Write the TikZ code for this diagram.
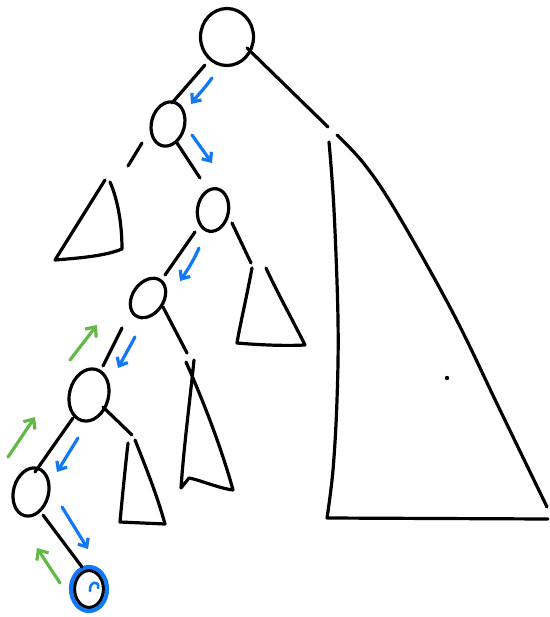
\documentclass[tikz,border=0pt]{standalone}
\usetikzlibrary{shapes.geometric,arrows.meta,calc}
\definecolor{pathblue}{RGB}{18,120,245}
\definecolor{upgreen}{RGB}{98,185,72}
\begin{document}
\begin{tikzpicture}[x=1pt,y=-1pt,
  pen/.style={draw=black,line width=3.2pt,line cap=round,line join=round},
  treenode/.style={pen,ellipse,inner sep=0pt},
  downarrow/.style={draw=pathblue,line width=3.2pt,line cap=round,line join=round,-{Straight Barb[length=7pt,width=12pt]}},
  uparrow/.style={draw=upgreen,line width=3.2pt,line cap=round,line join=round,-{Straight Barb[length=8pt,width=14pt]}},
]
\useasboundingbox (0,0) rectangle (549,617);

% nodes
\node[treenode,minimum width=53pt,minimum height=57pt] (root) at (227,37) {};
\node[treenode,minimum width=33pt,minimum height=45pt,rotate=-15] (n1) at (168,124) {};
\node[treenode,minimum width=31pt,minimum height=43pt,rotate=-10] (n2) at (213,210) {};
\node[treenode,minimum width=31pt,minimum height=43pt,rotate=-35] (n3) at (148,298) {};
\node[treenode,minimum width=39pt,minimum height=53pt,rotate=-15] (n4) at (89,395) {};
\node[treenode,minimum width=35pt,minimum height=49pt,rotate=-15] (n5) at (31,492) {};
\node[treenode,minimum width=29pt,minimum height=37pt] (n6) at (89,589) {};
\draw[pathblue,line width=4.2pt] (n6.center) ellipse [x radius=18, y radius=22];
\draw[pathblue,line width=2.6pt,line cap=round] ($(n6)+(1,2)$) .. controls ($(n6)+(0,-8)$) and ($(n6)+(11,-9)$) .. ($(n6)+(9,-1)$);

% subtree tops
\coordinate (rt) at (328,127);
\coordinate (lt) at (128,166);
\coordinate (t2) at (251,263);
\coordinate (t3) at (187,353);
\coordinate (t4) at (132,435);

% edges
\draw[pen] ($(root)+(-22,28)$) -- ($(n1)+(4,-21)$);
\draw[pen] ($(root)+(20,11)$) -- (rt);
\draw[pen] ($(n1)+(-26,19)$) -- (lt);
\draw[pen] ($(n1)+(9,19)$) -- ($(n2)+(-13,-32)$);
\draw[pen] ($(n2)+(-18,22)$) -- ($(n3)+(17,-23)$);
\draw[pen] ($(n2)+(19,13)$) -- (t2);
\draw[pen] ($(n3)+(-26,30)$) -- ($(n4)+(14,-29)$);
\draw[pen] ($(n3)+(15,9)$) -- (t3);
\draw[pen] ($(n4)+(-16,23)$) -- ($(n5)+(4,-20)$);
\draw[pen] ($(n4)+(14,12)$) -- (t4);
\draw[pen] ($(n5)+(12,23)$) -- ($(n6)+(-7,-22)$);

% right big subtree
\draw[pen] plot[smooth,tension=0.6] coordinates {(329,142) (334,210) (338,320) (337,400) (333,470) (327,518)} -- (548,519);
\draw[pen] plot[smooth,tension=0.6] coordinates {(337,135) (365,165) (397,213) (453,313) (500,410) (547,507)};
\fill (447,378) circle (2.2pt);

% left subtree under n1
\draw[pen] (105,180) -- (55,260) .. controls (80,258) and (105,256) .. (122,249) .. controls (122,225) and (118,200) .. (110,182);

% subtree under n2
\draw[pen] (252,268) .. controls (246,300) and (240,325) .. (237,343) .. controls (260,345) and (285,346) .. (305,345) .. controls (290,315) and (276,290) .. (266,268);

% subtree under n3
\draw[pen] (186,362) .. controls (205,405) and (222,450) .. (233,490) .. controls (218,488) and (200,480) .. (189,478) -- (181,488) .. controls (184,445) and (190,400) .. (194,360);

% subtree under n4
\draw[pen] (128,443) .. controls (125,470) and (122,500) .. (120,522) -- (165,524) .. controls (157,495) and (145,465) .. (135,440);

% blue descent arrows
\draw[downarrow] (212,78) .. controls (205,88) and (197,96) .. (191,104);
\draw[downarrow] (192,135) -- (212,163);
\draw[downarrow] (199,248) .. controls (193,262) and (186,272) .. (180,281);
\draw[downarrow] (135,337) -- (118,368);
\draw[downarrow] (78,438) -- (57,472);
\draw[downarrow] (62,507) -- (88,549);

% green ascent arrows
\draw[uparrow] (70,360) -- (97,325);
\draw[uparrow] (8,457) -- (35,417);
\draw[uparrow] (60,583) -- (37,548);
\end{tikzpicture}
\end{document}
